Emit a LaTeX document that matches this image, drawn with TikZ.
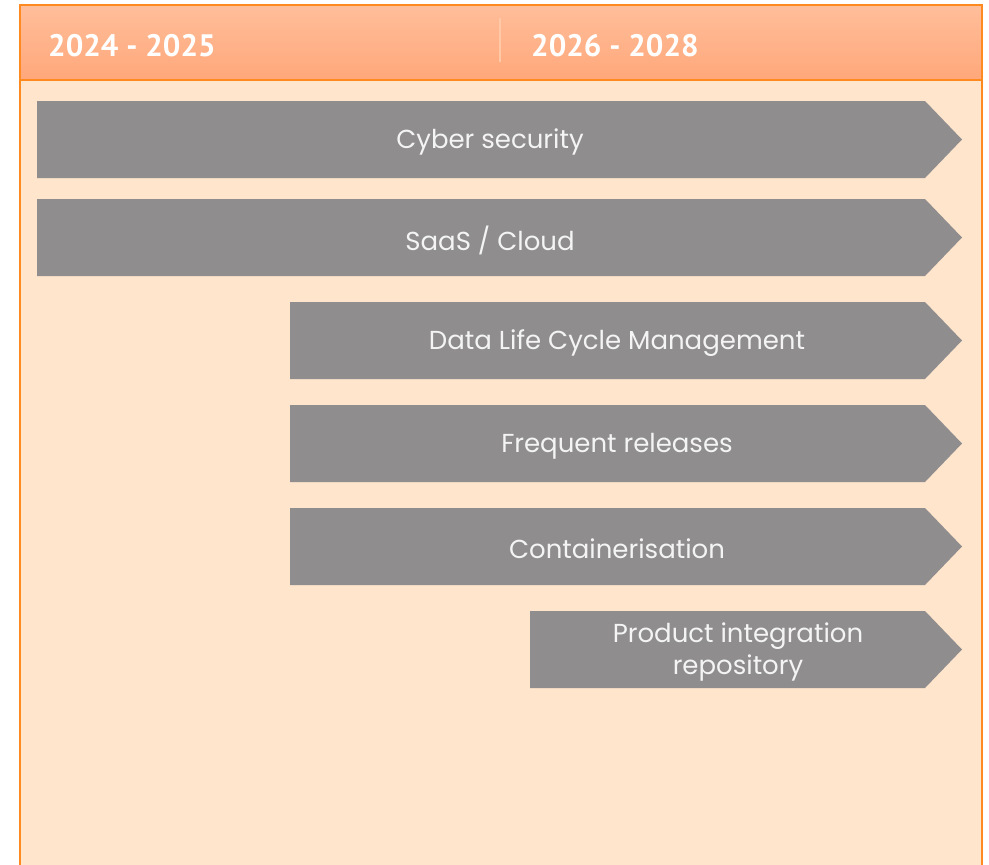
\documentclass[tikz,border=0pt]{standalone}
\usepackage{fontspec}
\setmainfont{Poppins}
\newfontfamily\headfont{PT Sans}
\usetikzlibrary{positioning}
\definecolor{frameorange}{HTML}{FF8A1F}
\definecolor{headtop}{HTML}{FFBE9A}
\definecolor{headbot}{HTML}{FFA77A}
\definecolor{bodyfill}{HTML}{FEE5CC}
\definecolor{bargray}{HTML}{8F8D8E}
\definecolor{divider}{HTML}{FFC9A8}
\definecolor{lbltext}{HTML}{F4F4F4}

\begin{document}
\begin{tikzpicture}[x=1pt,y=-1pt,
		bar/.style={fill=bargray},
		lbl/.style={text=lbltext,font=\fontsize{26}{32}\selectfont,align=center,inner sep=0pt},
		yearlbl/.style={text=white,font=\headfont\bfseries\fontsize{31}{36}\selectfont,anchor=base west,inner sep=0pt}]
		\useasboundingbox (0,0) rectangle (989,865);
		% body and header
		\fill[bodyfill] (20,80) rectangle (982,870);
		\shade[top color=headtop,bottom color=headbot] (20,5) rectangle (982,80);
		\draw[frameorange,line width=1.5pt] (20,870) -- (20,5) -- (982,5) -- (982,870);
		\draw[frameorange,line width=1.5pt] (20,80) -- (982,80);
		\coordinate (divtop) at (500,18);
		\coordinate (divbot) at (500,62);
		\draw[divider,line width=2.5pt] (divtop) -- (divbot);
		\node[yearlbl] (yA) at (48,56) {2024 - 2025};
		\node[yearlbl] (yB) at (531,56) {2026 - 2028};

		% roadmap bars
		\foreach \top/\left/\cx/\txt/\nm in {
			101/37/490/{Cyber security}/cyber,
			199/37/490/{SaaS / Cloud}/saas,
			302/290/617/{Data Life Cycle Management}/dlcm,
			405/290/617/{Frequent releases}/freq,
			508/290/617/{Containerisation}/cont,
			611/530/738/{Product integration\\repository}/prod}{
			\fill[bar] (\left,\top) -- (925,\top) -- (962,\top+38.5) -- (925,\top+77) -- (\left,\top+77) -- cycle;
			\node[lbl] (\nm) at (\cx,\top+41) {\txt};
		}
	\end{tikzpicture}
\end{document}
